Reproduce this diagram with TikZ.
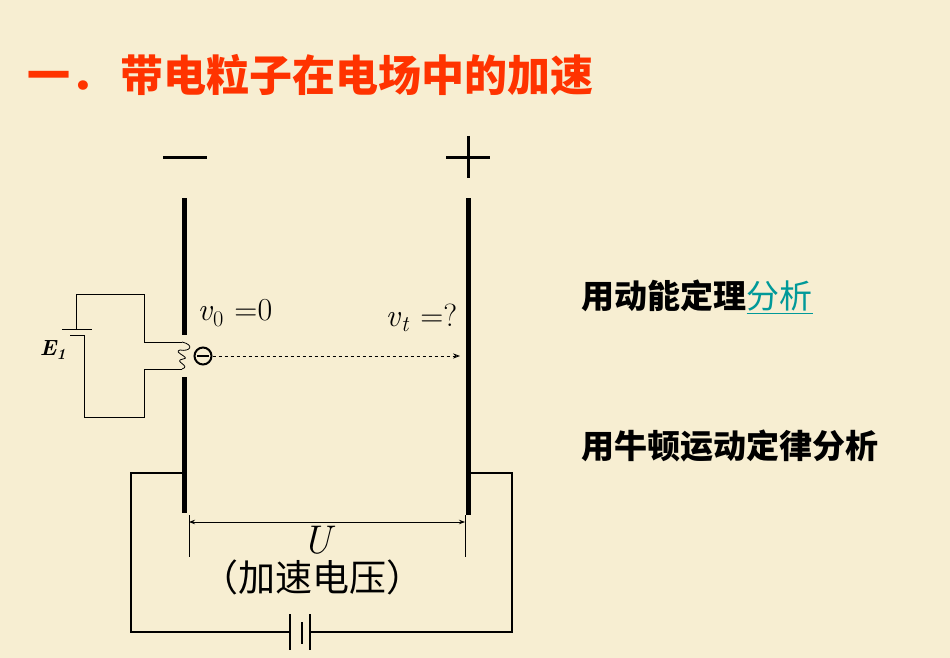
\documentclass[tikz,border=0pt]{standalone}
\usepackage{fontspec}
\newfontfamily\cjk{Noto Sans CJK SC}
\usetikzlibrary{arrows.meta}
\definecolor{bg}{HTML}{F7EED2}
\definecolor{ttl}{HTML}{FF3300}
\definecolor{lnk}{HTML}{009999}
\begin{document}
\begin{tikzpicture}[x=1pt,y=-1pt,
  plate/.style={line width=5pt},
  wire/.style={line width=1.6pt},
  thin wire/.style={line width=0.8pt},
  rtxt/.style={anchor=west,font=\cjk\bfseries\fontsize{33}{36}\selectfont}]
\fill[bg] (0,0) rectangle (950,658);
\useasboundingbox (0,0) rectangle (950,658);
\node[anchor=west,text=ttl,font=\cjk\bfseries\fontsize{43}{46}\selectfont] (title) at (24,75) {一．\,带电粒子在电场中的加速};
% signs
\draw[line width=3pt] (163,157) -- (207,157);
\draw[line width=3pt] (446,157) -- (490,157) (468,136) -- (468,178);
% plates
\draw[plate] (184,198) -- (184,335);
\draw[plate] (184,377) -- (184,513);
\draw[plate] (468,198) -- (468,515);
% electron
\node[draw,circle,line width=2pt,minimum size=17pt,inner sep=0pt] (e) at (203,356) {};
\draw[line width=2pt] (197,356) -- (209,356);
\draw[thin wire] (144,342) -- (182,342);
\draw[thin wire] (144,369) -- (182,369);
\draw[thin wire] (182,342) .. controls (195,345) and (190,352) .. (180,350) .. controls (172,352) and (192,358) .. (183,359) .. controls (172,361) and (192,366) .. (182,369);
% E1 circuit
\draw[thin wire] (84,335) -- (84,417) -- (144,417) -- (144,369);
\draw[thin wire] (144,342) -- (144,294) -- (76,294) -- (76,329);
\draw[thin wire] (62,329) -- (92,329);
\draw[thin wire] (70,335) -- (84,335);
\node[font=\bfseries\itshape\fontsize{22}{24}\selectfont] (E1) at (53,350) {E\textsubscript{1}};
% dashed
\coordinate (dend) at (460,356);
\draw[dashed,thin wire,-{Stealth[length=7pt,open]}] (e.east) -- (dend);
\node[anchor=west,font=\fontsize{32}{34}\selectfont] (v0) at (194,313) {\textit{v}\textsubscript{0}\,\,=0};
\node[anchor=west,font=\fontsize{32}{34}\selectfont] (vt) at (382,318) {\textit{v}\textsubscript{\textit{t}}\,\,=?};
% bottom circuit
\draw[wire] (184,473) -- (131,473) -- (131,632) -- (290,632);
\draw[wire] (290,614) -- (290,650);
\draw[wire] (302,622) -- (302,644);
\draw[wire] (310,614) -- (310,650);
\draw[wire] (310,632) -- (512,632) -- (512,473) -- (468,473);
% dimension
\draw[thin wire] (189,515) -- (189,557) (465,515) -- (465,557);
\coordinate (ua) at (189,522); \coordinate (ub) at (465,522);
\draw[thin wire,{Stealth[length=6pt]}-{Stealth[length=6pt]}] (ua) -- (ub);
\node[inner sep=0pt,font=\fontsize{40}{40}\selectfont\itshape] (U) at (317,540) {U};
\node[inner sep=0pt,font=\cjk\fontsize{37}{38}\selectfont] (acc) at (312,577) {（加速电压）};
% right texts
\node[rtxt] (t1) at (578,297) {用动能定理\textcolor{lnk}{\underline{\mdseries 分析}}};
\node[rtxt] (t2) at (578,446) {用牛顿运动定律分析};
\end{tikzpicture}
\end{document}
